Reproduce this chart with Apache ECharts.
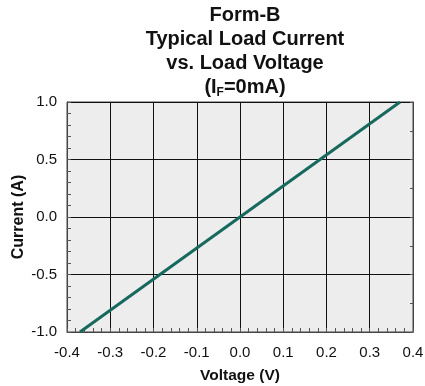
<!DOCTYPE html>
<html>
<head>
<meta charset="utf-8">
<script src="https://cdn.jsdelivr.net/npm/echarts@6/dist/echarts.min.js"></script>
<style>
  html, body { margin: 0; padding: 0; background: #fff; }
  #chart-container { width: 425px; height: 386px; }
</style>
</head>
<body>
<div id="chart-container"></div>
<script>
var voltage = [-0.37, 0.37];
var current = [-1.0, 1.0];
var xTicks = [-0.4, 0.4, 0.1];
var yTicks = [-1.0, 1.0, 0.5];
var rightTickStep = 0.25;

var dom = document.getElementById("chart-container");
var myChart = echarts.init(dom, null, { renderer: "canvas" });

var lineData = voltage.map(function (v, i) { return [v, current[i]]; });
var font = "Liberation Sans, Arial, sans-serif";
var fmt = function (v) { return v.toFixed(1); };

var option = {
  animation: false,
  title: {
    text: "{t|Form-B}\n{t|Typical Load Current}\n{t|vs. Load Voltage}\n{t|(I}{s|F}{t|=0mA)}",
    left: 240,
    top: -2,
    textAlign: "center",
    textStyle: {
      rich: {
        t: { fontFamily: font, fontSize: 20, fontWeight: "bold", color: "#111", lineHeight: 24 },
        s: { fontFamily: font, fontSize: 12, fontWeight: "bold", color: "#111", lineHeight: 24, verticalAlign: "bottom", padding: [9, 0, 0, 0] }
      }
    }
  },
  grid: {
    left: 67, right: 12, top: 102, bottom: 54,
    outerBoundsMode: "none",
    backgroundColor: "#ededee", show: true, borderColor: "#444", borderWidth: 1
  },
  xAxis: {
    type: "value",
    min: xTicks[0], max: xTicks[1], interval: xTicks[2],
    name: "Voltage (V)",
    nameLocation: "middle",
    nameGap: 36,
    nameTextStyle: { fontFamily: font, fontSize: 15.5, fontWeight: "bold", color: "#111" },
    axisLine: { onZero: false, lineStyle: { color: "#444" } },
    axisTick: { show: true, inside: true, length: 4, lineStyle: { color: "#555" } },
    minorTick: { show: true, splitNumber: 5, length: 4, lineStyle: { color: "#555" } },
    axisLabel: { fontFamily: font, fontSize: 15, color: "#111", margin: 13, formatter: fmt },
    splitLine: { show: true, lineStyle: { color: "#111", width: 1 } }
  },
  yAxis: [
    {
      type: "value",
      min: yTicks[0], max: yTicks[1], interval: yTicks[2],
      name: "Current (A)",
      nameLocation: "middle",
      nameGap: 40,
      nameMoveOverlap: false,
      nameTextStyle: { fontFamily: font, fontSize: 16, fontWeight: "bold", color: "#111" },
      axisLine: { show: true, onZero: false, lineStyle: { color: "#444" } },
      axisTick: { show: true, inside: true, length: 4, lineStyle: { color: "#555" } },
      minorTick: { show: true, splitNumber: 5, length: 4, lineStyle: { color: "#555" } },
      axisLabel: { fontFamily: font, fontSize: 15, color: "#111", margin: 10, formatter: fmt },
      splitLine: { show: true, lineStyle: { color: "#111", width: 1 } }
    },
    {
      type: "value",
      position: "right",
      min: yTicks[0], max: yTicks[1], interval: rightTickStep,
      axisLine: { show: true, onZero: false, lineStyle: { color: "#444" } },
      axisTick: { show: true, inside: true, length: 3, lineStyle: { color: "#555" } },
      axisLabel: { show: false },
      splitLine: { show: false }
    }
  ],
  series: [
    {
      type: "line",
      data: lineData,
      symbol: "none",
      lineStyle: { color: "#16695c", width: 3 }
    }
  ]
};

myChart.setOption(option);
window.addEventListener("resize", myChart.resize);
</script>
</body>
</html>
